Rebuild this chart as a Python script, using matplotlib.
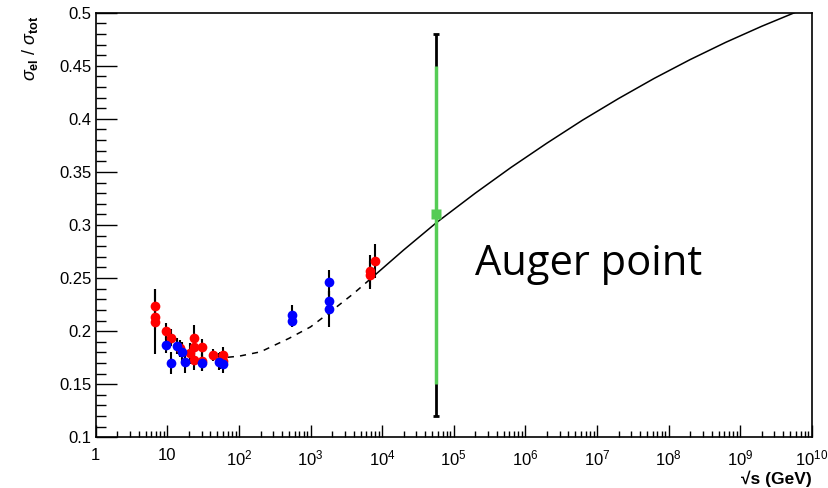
import matplotlib
matplotlib.use('Agg')
import matplotlib.pyplot as plt
from matplotlib.ticker import LogLocator, MultipleLocator, FixedLocator, FixedFormatter, NullFormatter

plt.rcParams['font.family'] = ['Liberation Sans', 'DejaVu Sans']
plt.rcParams['mathtext.fontset'] = 'custom'
plt.rcParams['mathtext.rm'] = 'Liberation Sans'
plt.rcParams['mathtext.it'] = 'Liberation Sans:italic'
plt.rcParams['mathtext.bf'] = 'Liberation Sans:bold'

# red points (sqrt(s) in GeV, sigma_el/sigma_tot, error)
red_x = [6.8, 6.8, 6.8, 9.6, 11.3, 15, 21, 23.6, 23.6, 23.6, 30.2, 30.2, 44, 54, 60, 60, 6800, 6800, 8000]
red_y = [0.224, 0.213, 0.209, 0.200, 0.194, 0.184, 0.179, 0.194, 0.185, 0.173, 0.185, 0.172,
         0.1775, 0.172, 0.1775, 0.172, 0.257, 0.253, 0.266]
red_err = [0.016, 0.012, 0.031, 0.008, 0.008, 0.008, 0.010, 0.012, 0.010, 0.010, 0.008, 0.010,
           0.006, 0.008, 0.008, 0.008, 0.015, 0.013, 0.016]

# blue points
blue_x = [9.6, 11.3, 13.5, 16, 17.7, 30.2, 53, 60, 546, 546, 1800, 1800, 1800]
blue_y = [0.187, 0.170, 0.186, 0.180, 0.171, 0.170, 0.171, 0.169, 0.215, 0.210, 0.246, 0.228, 0.2205]
blue_err = [0.008, 0.010, 0.008, 0.010, 0.010, 0.008, 0.008, 0.008, 0.010, 0.006, 0.012, 0.010, 0.017]

# model curve: dashed part and solid part
dash_x = [70, 100, 200, 500, 1000, 1780, 4000, 6760]
dash_y = [0.1754, 0.1764, 0.1805, 0.1932, 0.2040, 0.2168, 0.2355, 0.2488]
solid_x = [6760, 2.0e4, 5.75e4, 2.0e5, 6.3e5, 2.0e6, 6.3e6, 2.0e7, 6.3e7, 2.0e8, 6.3e8, 2.0e9, 5.75e9]
solid_y = [0.2488, 0.2765, 0.3023, 0.3300, 0.3542, 0.3771, 0.3988, 0.4191, 0.4381, 0.4558,
           0.4721, 0.4872, 0.5]

# Auger point
auger_x = 5.7e4
auger_y = 0.31
auger_stat = [[0.16], [0.14]]
auger_tot = [[0.19], [0.17]]

fig = plt.figure(figsize=(8.29, 4.88), dpi=100)
ax = fig.add_axes([0.1155, 0.1039, 0.8637, 0.8701])

ax.plot(dash_x, dash_y, color='black', lw=1.1, ls=(0, (4, 4)))
ax.plot(solid_x, solid_y, color='black', lw=1.1)

ax.errorbar(red_x, red_y, yerr=red_err, fmt='none', ecolor='black', elinewidth=1.5)
ax.errorbar(blue_x, blue_y, yerr=blue_err, fmt='none', ecolor='black', elinewidth=1.5)
ax.plot(red_x, red_y, 'o', color='#ff0000', ms=7, mec='none')
ax.plot(blue_x, blue_y, 'o', color='#0000ff', ms=7, mec='none')

ax.errorbar([auger_x], [auger_y], yerr=auger_tot, fmt='none', ecolor='black', elinewidth=2,
            capsize=2, capthick=2)
ax.errorbar([auger_x], [auger_y], yerr=auger_stat, fmt='s', color='#55cc55', ecolor='#55cc55',
            elinewidth=2.5, ms=7.5, mec='none')

ax.text(2.0e5, 0.2529, 'Auger point', fontsize=30, family=['Open Sans', 'DejaVu Sans'],
        ha='left', va='baseline')

ax.set_xscale('log')
ax.set_xlim(1, 1e10)
ax.set_ylim(0.1, 0.5)

xt = [10.0 ** k for k in range(11)]
xl = ['1', '10'] + [r'$\mathregular{10^{%d}}$' % k for k in range(2, 11)]
ax.xaxis.set_major_locator(FixedLocator(xt))
ax.xaxis.set_major_formatter(FixedFormatter(xl))
ax.xaxis.set_minor_locator(LogLocator(base=10, subs=range(2, 10), numticks=20))
ax.xaxis.set_minor_formatter(NullFormatter())
ax.yaxis.set_minor_locator(MultipleLocator(0.01))
ax.set_yticks([0.1, 0.15, 0.2, 0.25, 0.3, 0.35, 0.4, 0.45, 0.5])
ax.set_yticklabels(['0.1', '0.15', '0.2', '0.25', '0.3', '0.35', '0.4', '0.45', '0.5'])

ax.tick_params(axis='both', which='both', direction='in', top=False, right=False,
               labelsize=12, width=1)
ax.tick_params(axis='y', which='major', length=15, pad=3)
ax.tick_params(axis='y', which='minor', length=7.5)
ax.tick_params(axis='x', which='major', length=8.5, pad=8)
ax.tick_params(axis='x', which='minor', length=4.3)
for s in ax.spines.values():
    s.set_linewidth(1.2)

fig.text(0.036, 0.968, r'$\sigma_{\mathbf{el}}$ / $\sigma_{\mathbf{tot}}$', rotation=90,
         ha='center', va='top', fontsize=13)
fig.text(0.979, 0.002, '√s (GeV)', ha='right', va='bottom', fontsize=12.5, fontweight='bold')

fig.savefig('out.png', dpi=100)
